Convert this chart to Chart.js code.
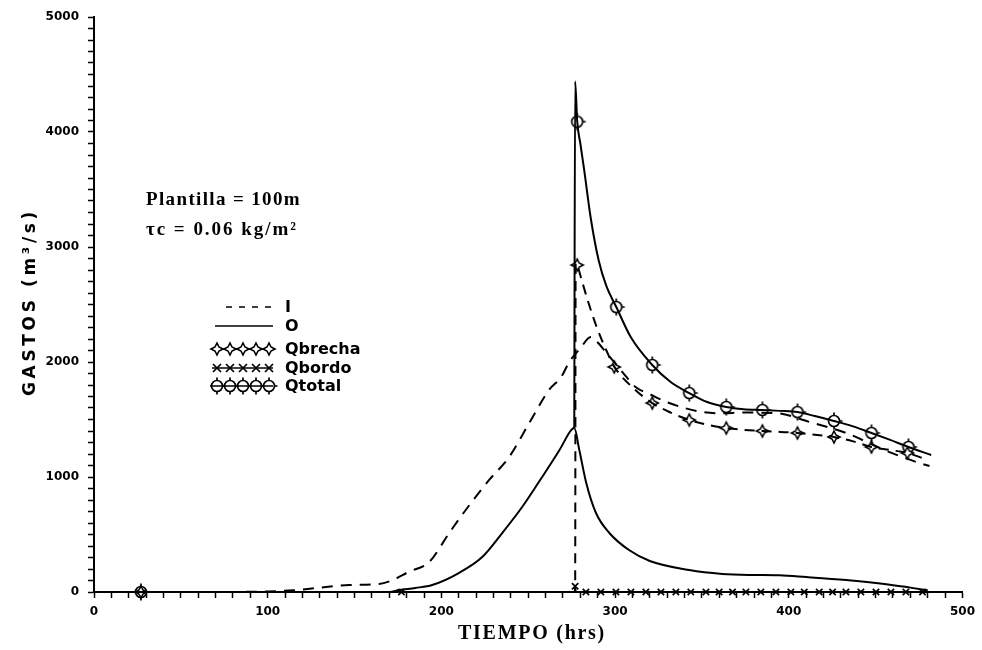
<!DOCTYPE html>
<html>
<head>
<meta charset="utf-8">
<script src="https://cdn.jsdelivr.net/npm/chart.js@4.4.1/dist/chart.umd.min.js"></script>
<style>
html, body { margin: 0; padding: 0; background: #fff; }
#wrap { width: 982px; height: 650px; }
</style>
</head>
<body>
<div id="wrap"><canvas id="chart" width="982" height="650"></canvas></div>
<script>
// hidrograma de entrada I (hrs, m3/s)
let t_I = [0, 60, 100, 115, 128, 147, 164, 172, 181, 193, 204.5, 214, 227.5, 239, 250.6, 262, 269, 273.6, 280, 286, 290, 296, 300, 306, 312, 320, 330, 340, 350, 360, 375, 393, 412, 433, 455, 475, 481]
let q_I = [0, 0, 5, 15, 35, 61, 70, 104, 174, 261, 513, 713, 974, 1174, 1470, 1757, 1870, 2000, 2120, 2217, 2170, 2060, 1990, 1880, 1780, 1720, 1650, 1600, 1565, 1555, 1560, 1555, 1478, 1383, 1235, 1122, 1095]

// salida O
let t_O = [0, 170, 175.7, 185, 194.7, 210, 223.5, 235, 246.5, 258, 268, 274.8, 276.5, 279.4, 283.4, 289, 296.7, 308, 320, 342.7, 361.7, 377, 394.6, 410, 433, 455, 470, 480]
let q_O = [0, 0, 17, 35, 61, 165, 304, 513, 739, 1000, 1235, 1409, 1426, 1235, 948, 687, 513, 365, 270, 191, 157, 148, 145, 130, 104, 70, 38, 15]

// gasto por la brecha
let t_brecha = [0, 277.0, 277.3, 278.2, 281, 285, 290, 295, 299.5, 310, 321.4, 332, 342.7, 353, 364, 374, 384.8, 395, 405, 415, 426, 437, 447.6, 458, 468.3, 478]
let q_brecha = [0, 0, 2860, 2843, 2700, 2500, 2280, 2100, 1960, 1780, 1643, 1560, 1496, 1455, 1426, 1410, 1400, 1392, 1383, 1368, 1348, 1310, 1261, 1235, 1209, 1160]
let tm_brecha = [27, 278.2, 299.5, 321.4, 342.7, 364, 384.8, 405, 426, 447.6, 468.3]
let qm_brecha = [0, 2843, 1957, 1643, 1496, 1426, 1400, 1383, 1348, 1261, 1209]

// gasto por el bordo
let t_bordo = [0, 276.5, 277, 277.6, 477]
let q_bordo = [0, 0, 50, 0, 0]
let tm_bordo = [177, 277, 283.2, 291.8, 300.5, 309.1, 317.7, 326.4, 335, 343.6, 352.3, 359.9, 367.6, 375.3, 383.9, 392.6, 401.2, 408.9, 417.5, 425.2, 432.9, 441.5, 450.2, 458.8, 467.4, 477]
let qm_bordo = [0, 50, 0, 0, 0, 0, 0, 0, 0, 0, 0, 0, 0, 0, 0, 0, 0, 0, 0, 0, 0, 0, 0, 0, 0, 0]

// gasto total
let t_total = [276.5, 277.0, 278.2, 280, 282.2, 286, 290.6, 295, 300.7, 309, 321.4, 332, 342.7, 353, 364, 374, 384.8, 395, 405, 415, 426, 437, 447.6, 458, 468.9, 482]
let q_total = [1426, 4440, 4090, 3900, 3670, 3250, 2880, 2660, 2478, 2217, 1974, 1826, 1730, 1652, 1609, 1590, 1583, 1575, 1565, 1530, 1487, 1440, 1383, 1325, 1261, 1191]
let tm_total = [27, 278.2, 300.7, 321.4, 342.7, 364, 384.8, 405, 426, 447.6, 468.9]
let qm_total = [0, 4090, 2478, 1974, 1730, 1609, 1583, 1565, 1487, 1383, 1261]

let legendNames = ['I', 'O', 'Qbrecha', 'Qbordo', 'Qtotal']
let notes = ['Plantilla = 100m', 'τc = 0.06 kg/m²']

function pts(t, q) {
    return t.map((v, i) => ({ x: v, y: q[i] }))
}

function diamondMark() {
    const c = document.createElement('canvas')
    c.width = 16; c.height = 16
    const g = c.getContext('2d')
    g.strokeStyle = '#000'; g.fillStyle = '#fff'; g.lineWidth = 1.6
    g.beginPath()
    g.moveTo(8, 2); g.lineTo(10, 6); g.lineTo(14, 8); g.lineTo(10, 10)
    g.lineTo(8, 14); g.lineTo(6, 10); g.lineTo(2, 8); g.lineTo(6, 6)
    g.closePath(); g.fill(); g.stroke()
    return c
}

function circleMark() {
    const c = document.createElement('canvas')
    c.width = 20; c.height = 20
    const g = c.getContext('2d')
    g.strokeStyle = '#000'; g.lineWidth = 1.7
    g.beginPath(); g.arc(10, 10, 5.5, 0, Math.PI * 2); g.stroke()
    g.beginPath()
    g.moveTo(10, 1.5); g.lineTo(10, 4.5)
    g.moveTo(10, 15.5); g.lineTo(10, 18.5)
    g.moveTo(15.5, 10); g.lineTo(18.5, 10)
    g.stroke()
    return c
}

const diamondImg = diamondMark()
const circleImg = circleMark()

function lineSet(data, dash, width) {
    return {
        data: data, showLine: true, borderColor: '#000', borderWidth: width || 2,
        borderDash: dash || [], pointRadius: 0, cubicInterpolationMode: 'monotone', clip: false
    }
}

function markSet(data, style, r) {
    return {
        data: data, showLine: false, pointStyle: style, pointRadius: r,
        borderColor: '#000', backgroundColor: 'rgba(0,0,0,0)', pointBorderWidth: 1.7, clip: false
    }
}

// texto con espaciado para ocupar un ancho dado
function spacedText(ctx, txt, x, y, font, width) {
    ctx.font = font
    ctx.letterSpacing = '0px'
    const w0 = ctx.measureText(txt).width
    const ls = width ? Math.max(0, (width - w0) / txt.length) : 0
    ctx.letterSpacing = ls + 'px'
    ctx.fillText(txt, x, y)
    ctx.letterSpacing = '0px'
}

const textPlugin = {
    id: 'textos',
    afterDraw(chart) {
        const ctx = chart.ctx
        ctx.save()
        ctx.fillStyle = '#000'
        ctx.strokeStyle = '#000'
        ctx.textAlign = 'left'
        ctx.textBaseline = 'middle'

        // notas
        spacedText(ctx, notes[0], 146, 200, 'bold 19px "Liberation Serif"', 155)
        spacedText(ctx, notes[1], 146, 230, 'bold 19px "Liberation Serif"', 152)

        // titulos de ejes
        spacedText(ctx, 'TIEMPO (hrs)', 458, 634, 'bold 20px "Liberation Serif"', 148)
        ctx.save()
        ctx.translate(31, 302)
        ctx.rotate(-Math.PI / 2)
        spacedText(ctx, 'GASTOS (m³/s)', -94, 0, 'bold 17px "DejaVu Sans"', 188)
        ctx.restore()

        // leyenda
        const rows = [308, 327, 350, 369, 387]
        legendNames.forEach((n, i) => {
            spacedText(ctx, n, 285, rows[i], 'bold 16px "DejaVu Sans"', 0)
        })
        ctx.lineWidth = 1.7
        ctx.setLineDash([6, 7])
        ctx.beginPath(); ctx.moveTo(226, 307); ctx.lineTo(273, 307); ctx.stroke()
        ctx.setLineDash([])
        ctx.beginPath(); ctx.moveTo(215, 326); ctx.lineTo(273, 326); ctx.stroke()
        ctx.beginPath(); ctx.moveTo(212, 349); ctx.lineTo(273, 349); ctx.stroke()
        ctx.beginPath(); ctx.moveTo(212, 368); ctx.lineTo(273, 368); ctx.stroke()
        ctx.beginPath(); ctx.moveTo(210, 386); ctx.lineTo(273, 386); ctx.stroke()
        for (let k = 0; k < 5; k++) {
            const cx = 217 + k * 13
            ctx.drawImage(diamondImg, cx - 8, 349 - 8)
            ctx.beginPath()
            ctx.moveTo(cx - 4, 364); ctx.lineTo(cx + 4, 372)
            ctx.moveTo(cx - 4, 372); ctx.lineTo(cx + 4, 364)
            ctx.stroke()
            ctx.drawImage(circleImg, cx - 10, 386 - 10)
        }
        ctx.restore()
    }
}

const config = {
    type: 'scatter',
    data: {
        datasets: [
            lineSet(pts(t_I, q_I), [11, 8]),
            lineSet(pts(t_O, q_O)),
            lineSet(pts(t_brecha, q_brecha), [10, 7]),
            lineSet(pts(t_bordo, q_bordo), [], 1.2),
            lineSet(pts(t_total, q_total)),
            markSet(pts(tm_brecha, qm_brecha), diamondImg, 6),
            markSet(pts(tm_bordo, qm_bordo), 'crossRot', 4.5),
            markSet(pts(tm_total, qm_total), circleImg, 7)
        ]
    },
    options: {
        responsive: false,
        animation: false,
        layout: { padding: { top: 17, right: 18, left: 0, bottom: 0 } },
        plugins: {
            legend: { display: false },
            title: { display: false },
            tooltip: { enabled: false }
        },
        scales: {
            x: {
                type: 'linear', min: 0, max: 500,
                afterFit: s => { s.height = 58 },
                border: { display: true, color: '#000', width: 2 },
                grid: { drawOnChartArea: false, drawTicks: true, tickLength: 6, color: '#000', tickWidth: 1.5 },
                ticks: {
                    stepSize: 10, autoSkip: false, maxRotation: 0, padding: 7, color: '#000',
                    font: { family: 'DejaVu Sans', size: 12, weight: 'bold' },
                    callback: v => (Math.round(v) % 100 === 0 ? String(Math.round(v)) : '')
                }
            },
            y: {
                type: 'linear', min: 0, max: 5000,
                afterFit: s => { s.width = 94 },
                border: { display: true, color: '#000', width: 2 },
                grid: { drawOnChartArea: false, drawTicks: true, tickLength: 6, color: '#000', tickWidth: 1.5 },
                ticks: {
                    stepSize: 100, autoSkip: false, padding: 9, color: '#000',
                    font: { family: 'DejaVu Sans', size: 12, weight: 'bold' },
                    callback: v => (Math.round(v) % 1000 === 0 ? String(Math.round(v)) : '')
                }
            }
        }
    },
    plugins: [textPlugin]
}

let myChart = new Chart(document.getElementById('chart'), config)
</script>
</body>
</html>
